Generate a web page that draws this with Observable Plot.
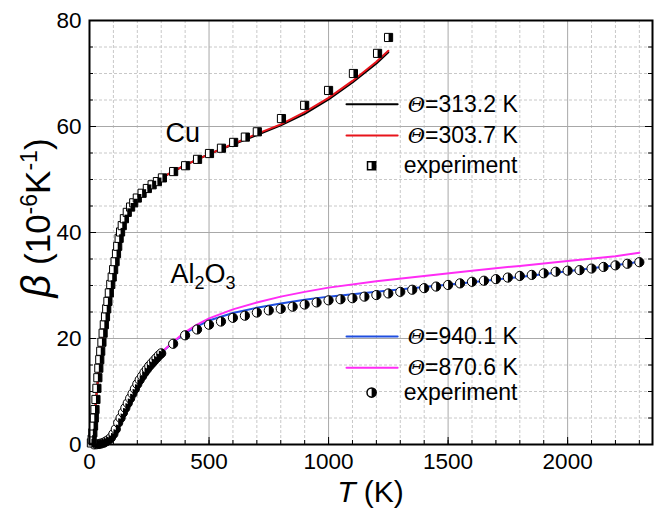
<!DOCTYPE html>
<html><head><meta charset="utf-8">
<script src="https://cdn.jsdelivr.net/npm/d3@7"></script>
<script src="https://cdn.jsdelivr.net/npm/@observablehq/plot@0.6"></script>
<style>body{margin:0;background:#fff;} svg{display:block}</style>
</head><body><div id="chart"></div>
<script>
// ---------- data ----------
const xMajorTicks = [0, 500, 1000, 1500, 2000];
const yMajorTicks = [0, 20, 40, 60, 80];

const cuExpT = [8,11,14,17,20,23,27,31,35,39,43,47,52,57,62,67,72,77,83,89,95,101,107,113,118,124,130,137,146,158,172,185,200,220,242,262,284,305,352,402,452,502,552,603,652,702,803,900,1000,1104,1205,1251];
const cuExpB = [0.3,1.0,2.2,3.5,5.0,6.6,8.5,10.6,12.6,14.4,16.0,17.6,19.3,21.0,22.6,24.1,25.6,27.0,28.6,30.2,31.6,33.0,34.5,36.0,37.4,38.9,40.1,41.3,42.6,43.8,44.8,45.6,46.5,47.4,48.3,49.0,49.6,50.3,51.5,52.6,53.8,54.9,55.9,57.0,58.0,59.0,61.5,64.0,66.8,70.0,73.8,76.8];

const cuFitT  = [0,10,20,30,40,50,60,70,80,90,100,110,120,130,140,150,170,200,250,300,400,500,600,700,800,900,1000,1100,1200,1250];
const cuFit313 = [0,0.3,4.6,9.8,14.6,18.6,22.2,25.3,28.2,30.8,33.2,35.4,37.4,39.2,40.8,42.2,44.4,46.6,48.8,50.3,52.7,54.8,56.6,58.4,60.2,62.4,65.1,68.3,71.9,74.0];
const cuFit303 = [0,0.3,4.6,9.8,14.6,18.6,22.2,25.3,28.2,30.8,33.2,35.4,37.4,39.2,40.8,42.2,44.4,46.6,48.8,50.3,52.7,54.8,56.7,58.6,60.4,62.7,65.4,68.6,72.2,74.3];

const alExpT = [20,30,40,50,60,70,80,90,100,110,120,130,140,150,160,170,180,190,200,210,220,230,240,250,260,270,280,290,300,350,400,450,500,550,600,650,700,750,800,850,900,950,1000,1050,1100,1150,1200,1250,1300,1350,1400,1450,1500,1550,1600,1650,1700,1750,1800,1850,1900,1950,2000,2050,2100,2150,2200,2250,2300];
const alExpB = [0.02,0.05,0.1,0.2,0.35,0.6,0.9,1.3,2.0,2.9,4.1,5.0,6.0,6.9,7.8,8.7,9.6,10.5,11.4,12.2,12.9,13.6,14.2,14.8,15.3,15.8,16.3,16.8,17.2,19.0,20.6,21.7,22.6,23.2,23.9,24.3,24.9,25.3,25.6,26.0,26.4,26.8,27.2,27.4,27.6,27.9,28.2,28.5,28.8,29.2,29.5,29.8,30.1,30.4,30.7,30.9,31.2,31.5,31.8,32.0,32.3,32.6,32.8,32.9,33.2,33.5,33.8,34.1,34.4];

const alFitT   = [0,50,100,150,200,250,300,350,400,450,500,600,700,800,900,1000,1200,1400,1600,1800,2000,2200,2300];
const alFit940 = [0,0.2,2.0,6.9,11.4,14.8,17.3,19.3,21.0,22.3,23.4,24.8,25.8,26.6,27.3,27.9,28.8,29.7,30.6,31.6,32.7,33.8,34.5];
const alFit870 = [0,0.2,2.0,6.9,11.4,14.8,17.3,19.4,21.2,22.6,23.8,25.5,26.8,27.9,28.8,29.6,30.8,31.8,32.8,33.7,34.6,35.5,36.2];

const legendLabels = ["Θ=313.2 K", "Θ=303.7 K", "experiment", "Θ=940.1 K", "Θ=870.6 K", "experiment"];
const materialLabels = ["Cu", "Al2O3"];

// ---------- helpers ----------
const zip = (T, B) => T.map((t, i) => ({T: t, B: B[i]}));
const cuExp = zip(cuExpT, cuExpB);
const alExp = zip(alExpT, alExpB);
const cuA = zip(cuFitT, cuFit313), cuB = zip(cuFitT, cuFit303);
const alA = zip(alFitT, alFit940), alB = zip(alFitT, alFit870);

const W = 660, H = 508, mL = 89, mR = 8, mT = 20, mB = 64;
const innerW = W - mL - mR, innerH = H - mT - mB;
const xMax = 2355;

const halfSquare = {draw(ctx, size) { const s = Math.sqrt(size); ctx.rect(0, -s / 2, s / 2, s); }};
const halfCircle = {draw(ctx, size) { const r = Math.sqrt(size / Math.PI); ctx.moveTo(0, -r); ctx.arc(0, 0, r, -Math.PI / 2, Math.PI / 2); ctx.closePath(); }};

// legend placement (data units)
const lgX1 = 1075, lgX2 = 1289, lgMark = 1180, lgText = 1331, lgTextExp = 1314;
const lgCu = [64.2, 58.3, 52.6], lgAl = [20.4, 14.5, 9.8];
const seg = (y) => [{T: lgX1, B: y}, {T: lgX2, B: y}];

const xMinor = d3.range(0, 2400, 100);
const yMinor = d3.range(0, 81, 5);

const FONT = "Liberation Sans, Arial, Helvetica, sans-serif";

const plot = Plot.plot({
  width: W, height: H,
  marginLeft: mL, marginRight: mR, marginTop: mT, marginBottom: mB,
  style: {fontFamily: FONT, background: "white", color: "black"},
  x: {domain: [0, xMax], label: null},
  y: {domain: [0, 80], label: null},
  marks: [
    Plot.gridX(xMinor.filter(v => !xMajorTicks.includes(v)), {stroke: "#c8c8c8", strokeOpacity: 1, strokeDasharray: "3,2"}),
    Plot.gridY(yMinor.filter(v => !yMajorTicks.includes(v)), {stroke: "#c8c8c8", strokeOpacity: 1, strokeDasharray: "3,2"}),
    Plot.gridX(xMajorTicks, {stroke: "#a8a8a8", strokeOpacity: 1}),
    Plot.gridY(yMajorTicks, {stroke: "#a8a8a8", strokeOpacity: 1}),
    // inward ticks
    Plot.ruleX(xMinor, {stroke: "black", insetTop: innerH - 4}),
    Plot.ruleX(xMajorTicks, {stroke: "black", insetTop: innerH - 7}),
    Plot.ruleY(yMinor, {stroke: "black", insetLeft: innerW - 4}),
    Plot.ruleY(yMajorTicks, {stroke: "black", insetLeft: innerW - 7}),
    Plot.ruleY(yMinor, {stroke: "black", insetRight: innerW - 4}),
    Plot.ruleY(yMajorTicks, {stroke: "black", insetRight: innerW - 7}),
    Plot.axisX({ticks: xMajorTicks, tickFormat: d => String(d), tickSize: 0, tickPadding: 9, fontSize: 22.5, label: null}),
    Plot.axisY({ticks: yMajorTicks, tickFormat: d => String(d), tickSize: 0, tickPadding: 8, fontSize: 22.5, label: null}),
    // fits
    Plot.line(cuA, {x: "T", y: "B", stroke: "black", strokeWidth: 2}),
    Plot.line(cuB, {x: "T", y: "B", stroke: "#e8141b", strokeWidth: 2}),
    Plot.line(alA, {x: "T", y: "B", stroke: "#1f4ee0", strokeWidth: 2}),
    Plot.line(alB, {x: "T", y: "B", stroke: "#ff2cf5", strokeWidth: 2}),
    // experiment
    Plot.dot(alExp, {x: "T", y: "B", r: 4.6, fill: "white", stroke: "black", strokeWidth: 1}),
    Plot.dot(alExp, {x: "T", y: "B", r: 4.6, symbol: halfCircle, fill: "black", stroke: "none"}),
    Plot.dot(cuExp, {x: "T", y: "B", r: 4.6, symbol: "square", fill: "white", stroke: "black", strokeWidth: 1}),
    Plot.dot(cuExp, {x: "T", y: "B", r: 4.6, symbol: halfSquare, fill: "black", stroke: "none"}),
    // material labels
    Plot.text([materialLabels[0]], {x: 318, y: 57, text: d => d, textAnchor: "start", lineAnchor: "bottom", fontSize: 27}),
    Plot.text([materialLabels[1]], {x: 339, y: 30.4, text: d => d, textAnchor: "start", lineAnchor: "bottom", fontSize: 27}),
    // legends
    Plot.line(seg(lgCu[0]), {x: "T", y: "B", stroke: "black", strokeWidth: 2}),
    Plot.line(seg(lgCu[1]), {x: "T", y: "B", stroke: "#e8141b", strokeWidth: 2}),
    Plot.dot([{T: lgMark, B: lgCu[2]}], {x: "T", y: "B", r: 4.6, symbol: "square", fill: "white", stroke: "black"}),
    Plot.dot([{T: lgMark, B: lgCu[2]}], {x: "T", y: "B", r: 4.6, symbol: halfSquare, fill: "black", stroke: "none"}),
    Plot.line(seg(lgAl[0]), {x: "T", y: "B", stroke: "#1f4ee0", strokeWidth: 2}),
    Plot.line(seg(lgAl[1]), {x: "T", y: "B", stroke: "#ff2cf5", strokeWidth: 2}),
    Plot.dot([{T: lgMark, B: lgAl[2]}], {x: "T", y: "B", r: 4.6, fill: "white", stroke: "black"}),
    Plot.dot([{T: lgMark, B: lgAl[2]}], {x: "T", y: "B", r: 4.6, symbol: halfCircle, fill: "black", stroke: "none"}),
    Plot.text([0,1,2], {x: i => i === 2 ? lgTextExp : lgText, y: i => lgCu[i], text: i => legendLabels[i], textAnchor: "start", lineAnchor: "middle", fontSize: 23}),
    Plot.text([0,1,2], {x: i => i === 2 ? lgTextExp : lgText, y: i => lgAl[i], text: i => legendLabels[i + 3], textAnchor: "start", lineAnchor: "middle", fontSize: 23}),
    Plot.frame({stroke: "black", strokeWidth: 2})
  ]
});

// ---------- rich text post-processing ----------
const svg = d3.select(plot);
svg.selectAll("text").each(function() {
  const t = d3.select(this);
  const s = this.textContent;
  if (this.querySelector("tspan")) return;
  if (s.startsWith("Θ")) {
    t.text(null);
    t.append("tspan").attr("font-style", "italic").attr("font-family", "DejaVu Serif, serif").attr("font-size", "0.92em").text("Θ");
    t.append("tspan").text(s.slice(1));
  } else if (s === "Al2O3") {
    t.text(null);
    t.append("tspan").text("Al");
    t.append("tspan").attr("baseline-shift", "-6").attr("font-size", "18").text("2");
    t.append("tspan").text("O");
    t.append("tspan").attr("baseline-shift", "-6").attr("font-size", "18").text("3");
  }
});

// axis titles
const xt = svg.append("text")
  .attr("x", mL + innerW / 2).attr("y", 502)
  .attr("text-anchor", "middle").attr("font-size", 30).attr("font-family", FONT).attr("fill", "black");
xt.append("tspan").attr("font-style", "italic").text("T");
xt.append("tspan").text(" (K)");

const yt = svg.append("text")
  .attr("transform", `translate(50,218) rotate(-90)`)
  .attr("text-anchor", "middle").attr("font-size", 35).attr("font-family", FONT).attr("fill", "black");
yt.append("tspan").attr("font-style", "italic").attr("font-size", 40).text("β");
yt.append("tspan").text(" (10");
yt.append("tspan").attr("baseline-shift", "13").attr("font-size", 23).text("-6");
yt.append("tspan").text("K");
yt.append("tspan").attr("baseline-shift", "13").attr("font-size", 23).text("-1");
yt.append("tspan").text(")");

document.getElementById("chart").append(plot);
</script>
</body></html>
